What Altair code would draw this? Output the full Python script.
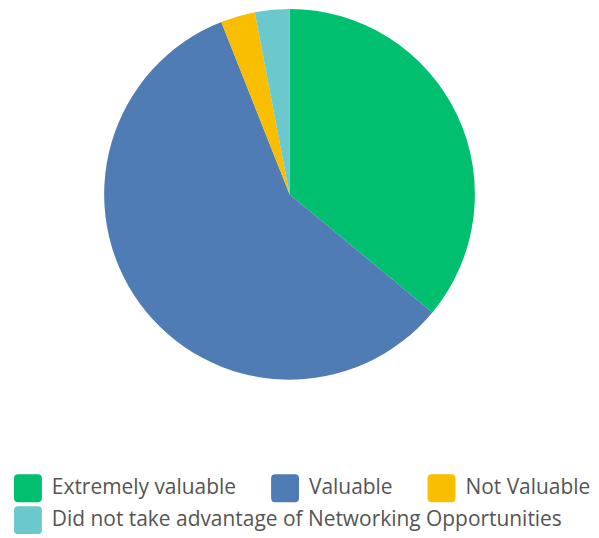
import altair as alt
import pandas as pd

categories = ["Extremely valuable", "Valuable", "Not Valuable",
              "Did not take advantage of Networking Opportunities"]
values = [36, 58, 3, 3]
colors = ["#00BF6F", "#507CB6", "#F9BE00", "#6BC8CD"]

df = pd.DataFrame({"answer": categories, "pct": values, "order": list(range(len(categories)))})

rounded = ("M -1 -0.7 Q -1 -1 -0.7 -1 L 0.7 -1 Q 1 -1 1 -0.7 L 1 0.7 "
           "Q 1 1 0.7 1 L -0.7 1 Q -1 1 -1 0.7 Z")


def legend(vals, y):
    return alt.Legend(
        title=None,
        values=vals,
        orient="none",
        direction="horizontal",
        legendX=6,
        legendY=y,
        columnPadding=35,
        symbolType=rounded,
        symbolSize=784,
        symbolStrokeWidth=0,
        symbolOpacity=1,
        labelFont="Open Sans",
        labelFontSize=21,
        labelColor="#555555",
        labelOffset=10,
        labelLimit=600,
    )


base = alt.Chart(df)
scale = alt.Scale(domain=categories, range=colors)

pie = base.mark_arc(radius=186, stroke=None).encode(
    theta=alt.Theta("pct:Q", stack=True),
    order=alt.Order("order:Q"),
    color=alt.Color("answer:N", scale=scale, legend=legend(categories[:3], 466)),
)

ghost = base.mark_arc(radius=186, stroke=None, opacity=0).encode(
    theta=alt.Theta("pct:Q", stack=True),
    order=alt.Order("order:Q"),
    color=alt.Color("answer:N", scale=scale, legend=legend(categories[3:], 498)),
)

chart = alt.layer(pie, ghost).resolve_scale(color="independent").properties(
    width=565, height=370, padding=0
).configure_view(stroke=None)

chart.save("out.html", embed_options={"renderer": "svg", "actions": False})
